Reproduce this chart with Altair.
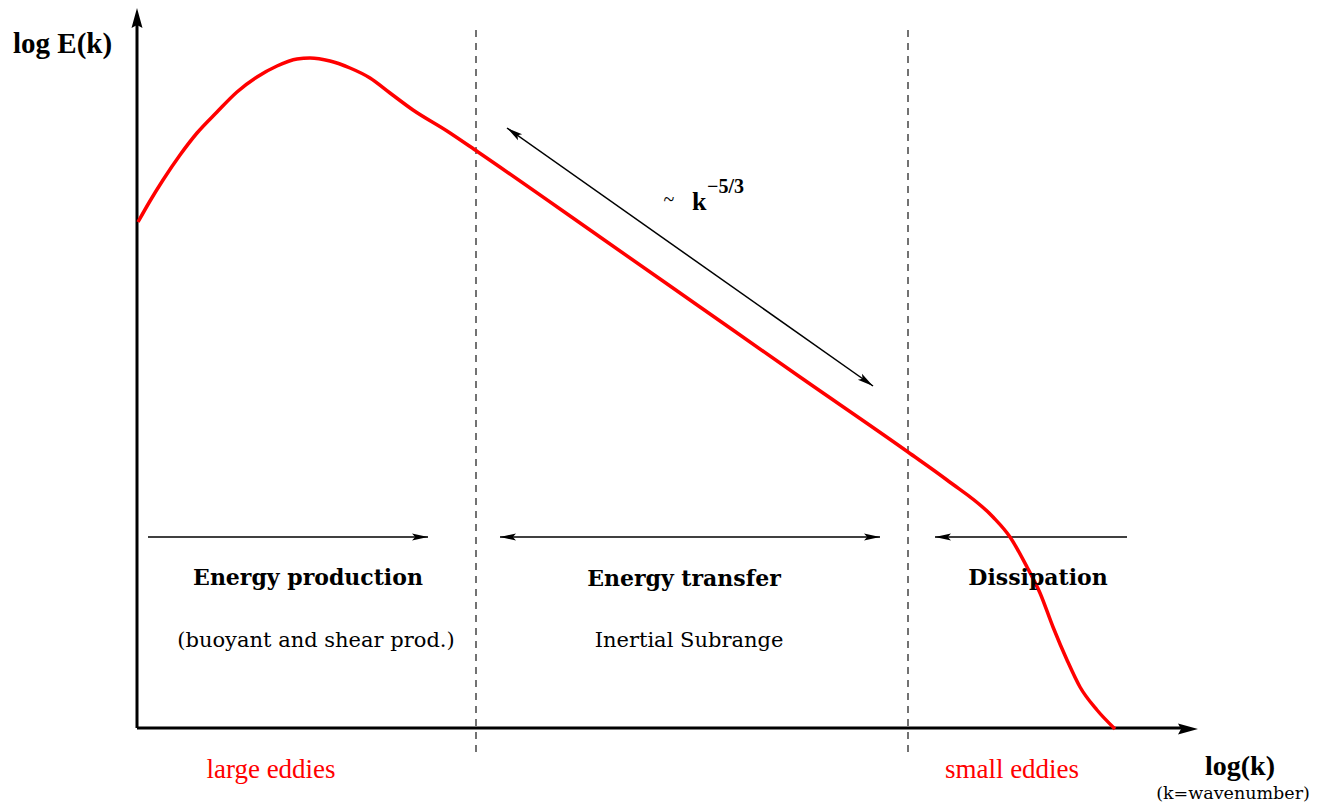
import altair as alt
import pandas as pd
import numpy as np

# ---- data (positions in the schematic's own k / E units) ----
curve_k = [138, 150, 163, 180, 197, 217, 237, 257, 277, 297, 310, 330, 350, 370, 390,
           413, 447, 478, 600, 700, 800, 908, 947, 993, 1010, 1027, 1040, 1053, 1067,
           1080, 1097, 1115]
curve_E = [222, 201, 180, 155, 133, 112, 92, 77, 66, 59, 58, 61, 68, 78, 93,
           110, 131, 152, 237, 307, 377, 452, 480, 517, 537, 567, 593, 627, 660,
           687, 710, 729]

# axes (origin, ends)
axis_x0 = [137, 137]
axis_y0 = [728, 728]
axis_x1 = [137, 1185]
axis_y1 = [22, 728]

# region boundaries (dashed)
bound_k = [476, 908]
bound_top = [30, 30]
bound_bot = [752, 752]

# thin arrows: start, end
arr_x0 = [148, 500, 935, 507]
arr_y0 = [537, 537, 537, 128]
arr_x1 = [428, 880, 1127, 873]
arr_y1 = [537, 537, 537, 386]

# arrow heads: tip positions and which way they point (dx, dy)
head_x = [137, 1198, 428, 500, 880, 935, 507, 873]
head_y = [8, 729, 537, 537, 537, 537, 128, 386]
head_dx = [0, 1, 1, -1, 1, -1, -366, 366]
head_dy = [-1, 0, 0, 0, 0, 0, -258, 258]
head_big = [1, 1, 0, 0, 0, 0, 0, 0]

# texts
bold_titles = ["Energy production", "Energy transfer", "Dissipation"]
bold_x = [308, 684, 1038]
bold_y = [585, 586, 585]
sub_titles = ["(buoyant and shear prod.)", "Inertial Subrange"]
sub_x = [316, 689]
sub_y = [647, 647]
red_labels = ["large eddies", "small eddies"]
red_x = [271, 1012]
red_y = [778, 778]

X = alt.Scale(domain=[8, 1312], nice=False, zero=False)
Y = alt.Scale(domain=[8, 804], nice=False, zero=False, reverse=True)


def xe(f):
    return alt.X(f, type="quantitative", scale=X, axis=None)


def ye(f):
    return alt.Y(f, type="quantitative", scale=Y, axis=None)


curve = alt.Chart(pd.DataFrame({"k": curve_k, "E": curve_E})).mark_line(
    color="#ff0000", strokeWidth=3.5, interpolate="monotone"
).encode(x=xe("k"), y=ye("E"), order="k:Q")

axes = alt.Chart(pd.DataFrame({"x0": axis_x0, "y0": axis_y0, "x1": axis_x1, "y1": axis_y1})).mark_rule(
    color="black", strokeWidth=3
).encode(x=xe("x0"), y=ye("y0"), x2="x1", y2="y1")

bounds = alt.Chart(pd.DataFrame({"k": bound_k, "t": bound_top, "b": bound_bot})).mark_rule(
    color="#444444", strokeWidth=1.5, strokeDash=[7, 6]
).encode(x=xe("k"), y=ye("t"), y2="b")

arrows = alt.Chart(pd.DataFrame({"x0": arr_x0, "y0": arr_y0, "x1": arr_x1, "y1": arr_y1})).mark_rule(
    color="black", strokeWidth=1.5
).encode(x=xe("x0"), y=ye("y0"), x2="x1", y2="y1")

ang = (np.degrees(np.arctan2(head_dx, -np.array(head_dy))) + 360) % 360
heads_df = pd.DataFrame({"x": head_x, "y": head_y, "a": ang, "big": head_big})

big_heads = alt.Chart(heads_df[heads_df.big == 1]).mark_point(
    shape="M0,0L0.55,2L0,1.7L-0.55,2Z", size=400, filled=True, color="black", opacity=1
).encode(x=xe("x"), y=ye("y"), angle=alt.Angle("a:Q", scale=None))

small_heads = alt.Chart(heads_df[heads_df.big == 0]).mark_point(
    shape="M0,0L0.45,2L0,1.6L-0.45,2Z", size=256, filled=True, color="black", opacity=1
).encode(x=xe("x"), y=ye("y"), angle=alt.Angle("a:Q", scale=None))


def texts(labels, xs, ys, **kw):
    df = pd.DataFrame({"t": labels, "x": xs, "y": ys})
    return alt.Chart(df).mark_text(baseline="alphabetic", **kw).encode(
        x=xe("x"), y=ye("y"), text="t:N"
    )


t_bold = texts(bold_titles, bold_x, bold_y, font="DejaVu Serif", fontWeight="bold",
               fontSize=22, align="center", color="black")
t_sub = texts(sub_titles, sub_x, sub_y, font="DejaVu Serif", fontSize=21,
              align="center", color="black")
t_red = texts(red_labels, red_x, red_y, font="Liberation Serif", fontSize=27,
              align="center", color="#ff0000")
t_ylab = texts(["log E(k)"], [13], [53], font="Liberation Serif", fontWeight="bold",
               fontSize=29, align="left", color="black")
t_xlab = texts(["log(k)"], [1240], [775], font="Liberation Serif", fontWeight="bold",
               fontSize=28, align="center", color="black")
t_xsub = texts(["(k=wavenumber)"], [1233], [799], font="DejaVu Serif", fontSize=17.5,
               align="center", color="black")
t_tilde = texts(["~"], [669], [206], font="Liberation Serif", fontSize=20,
                align="center", color="black")
t_k = texts(["k"], [692], [210], font="Liberation Serif", fontWeight="bold",
            fontSize=26, align="left", color="black")
t_exp = texts(["\u22125/3"], [707], [193], font="Liberation Serif", fontWeight="bold",
              fontSize=20, align="left", color="black")

chart = alt.layer(
    bounds, axes, arrows, big_heads, small_heads, curve,
    t_bold, t_sub, t_red, t_ylab, t_xlab, t_xsub, t_tilde, t_k, t_exp
).properties(
    width=1304, height=796, padding=0,
    autosize=alt.AutoSizeParams(type="none"), background="white"
).configure_view(stroke=None)

chart.save("out.html", embed_options={"renderer": "svg", "actions": False})
